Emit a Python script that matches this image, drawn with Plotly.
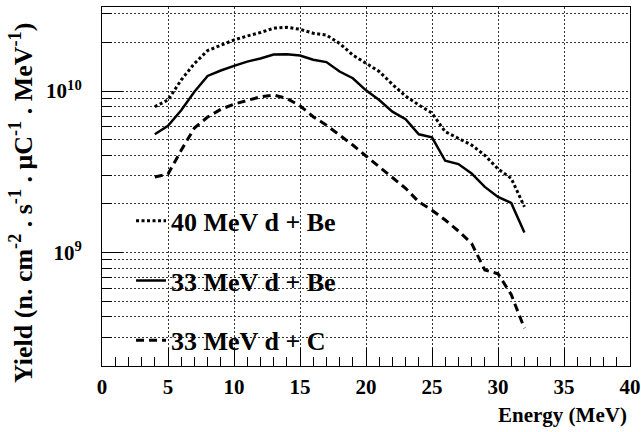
import plotly.graph_objects as go

energy = list(range(4, 33))

yield_40_be = [8.0e9, 8.8e9, 1.17e10, 1.48e10, 1.78e10, 1.93e10, 2.07e10, 2.19e10, 2.3e10,
               2.45e10, 2.48e10, 2.41e10, 2.28e10, 2.22e10, 1.97e10, 1.67e10, 1.48e10,
               1.32e10, 1.1e10, 9.3e9, 8.2e9, 7.3e9, 5.6e9, 5.1e9, 4.63e9, 4.0e9, 3.3e9,
               2.88e9, 1.92e9]

yield_33_be = [5.4e9, 6.1e9, 7.6e9, 9.9e9, 1.24e10, 1.34e10, 1.43e10, 1.52e10, 1.59e10,
               1.68e10, 1.69e10, 1.66e10, 1.56e10, 1.51e10, 1.32e10, 1.2e10, 1.01e10,
               8.8e9, 7.45e9, 6.7e9, 5.4e9, 5.17e9, 3.7e9, 3.53e9, 3.09e9, 2.55e9, 2.21e9,
               2.03e9, 1.33e9]

yield_33_c = [2.94e9, 3.06e9, 4.3e9, 5.9e9, 6.9e9, 7.7e9, 8.3e9, 8.7e9, 9.2e9,
              9.45e9, 9.0e9, 8.1e9, 6.93e9, 6.15e9, 5.34e9, 4.63e9, 3.96e9,
              3.4e9, 2.88e9, 2.5e9, 2.06e9, 1.83e9, 1.59e9, 1.36e9, 1.14e9, 7.8e8, 7.4e8,
              5.5e8, 3.4e8]

series_names = ["40 MeV d + Be", "33 MeV d + Be", "33 MeV d + C"]
x_tick_vals = [0, 5, 10, 15, 20, 25, 30, 35, 40]
y_tick_vals = [1e9, 1e10]
y_tick_text = ["10<sup>9</sup>", "10<sup>10</sup>"]

FONT = "Liberation Serif"

fig = go.Figure()
fig.add_trace(go.Scatter(x=energy, y=yield_40_be, mode="lines", name=series_names[0],
                         legendgroup="a",
                         line=dict(color="black", width=3, dash="3px,2.5px")))
fig.add_trace(go.Scatter(x=energy, y=yield_33_be, mode="lines", name=series_names[1],
                         legendgroup="b",
                         line=dict(color="black", width=2.5)))
fig.add_trace(go.Scatter(x=energy, y=yield_33_c, mode="lines", name=series_names[2],
                         legendgroup="c",
                         line=dict(color="black", width=3, dash="8px,5px")))

grid_col = "#333333"
fig.update_layout(
    template="none",
    width=641, height=432,
    margin=dict(l=102, r=11, t=7, b=66, autoexpand=False),
    paper_bgcolor="white", plot_bgcolor="white",
    font=dict(family=FONT, size=20, color="black"),
    showlegend=True,
    legend=dict(x=0.055, y=0.47, xanchor="left", yanchor="top",
                bgcolor="rgba(0,0,0,0)", borderwidth=0,
                font=dict(family=FONT, size=26, color="black", weight="bold"),
                tracegroupgap=23, itemwidth=30),
    xaxis=dict(range=[0, 40], tickvals=x_tick_vals, automargin=False,
               ticks="inside", ticklen=18, tickwidth=1, tickcolor="black",
               showline=True, linecolor="black", linewidth=1, mirror=True,
               showgrid=True, gridcolor=grid_col, griddash="2px,2px", gridwidth=1,
               zeroline=False,
               tickfont=dict(family=FONT, size=21, weight="bold"),
               ticklabelstandoff=2,
               minor=dict(dtick=1, ticks="inside", ticklen=9, tickcolor="black",
                          showgrid=False)),
    yaxis=dict(type="log", range=[8.298, 10.52], tickvals=y_tick_vals, ticktext=y_tick_text,
               automargin=False,
               ticks="inside", ticklen=21, tickwidth=1, tickcolor="black",
               showline=True, linecolor="black", linewidth=1, mirror=True,
               showgrid=True, gridcolor=grid_col, griddash="2px,2px", gridwidth=1,
               zeroline=False,
               tickfont=dict(family=FONT, size=21, weight="bold"),
               ticklabelstandoff=15,
               minor=dict(dtick="D1", ticks="inside", ticklen=10, tickcolor="black",
                          showgrid=True, gridcolor=grid_col, griddash="2px,2px",
                          gridwidth=1)),
)

fig.add_annotation(text="Yield (n. cm<sup>-2</sup> . s<sup>-1</sup> . μC<sup>-1</sup> . MeV<sup>-1</sup>)",
                   xref="paper", yref="paper", x=(21 - 102) / 528, y=(366 - 203) / 359,
                   xanchor="center", yanchor="middle", textangle=-90, showarrow=False,
                   font=dict(family=FONT, size=26, weight="bold"))
fig.add_annotation(text="Energy (MeV)",
                   xref="paper", yref="paper", x=(629 - 102) / 528, y=(366 - 415) / 359,
                   xanchor="right", yanchor="middle", showarrow=False,
                   font=dict(family=FONT, size=21, weight="bold"))

fig.write_html("out.html",
               config={"displayModeBar": False},
               post_script="document.body.style.margin='0';document.body.style.padding='0';")
